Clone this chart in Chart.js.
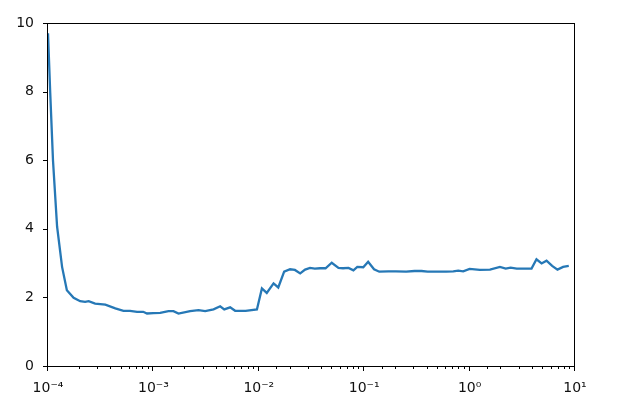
<!doctype html>
<html lang="en">
<head>
<meta charset="utf-8">
<title>Loss vs learning rate</title>
<script src="https://cdn.jsdelivr.net/npm/chart.js@4.4.1/dist/chart.umd.min.js"></script>
<style>
  html, body { margin: 0; padding: 0; background: #fff; }
  #wrap { width: 622px; height: 414px; }
</style>
</head>
<body>
<div id="wrap"><canvas id="canvas"></canvas></div>
<script>
// learning rates (x) and losses (y)
var lrs = [
  1.00e-4, 1.05e-4, 1.115e-4, 1.22e-4, 1.36e-4, 1.51e-4, 1.75e-4, 2.02e-4, 2.25e-4, 2.43e-4,
  2.8e-4, 3.5e-4, 4.35e-4, 5.2e-4, 6.0e-4, 7.0e-4, 8.0e-4, 8.7e-4, 1.0e-3, 1.16e-3,
  1.39e-3, 1.55e-3, 1.73e-3, 2.23e-3, 2.68e-3, 3.1e-3, 3.72e-3, 4.3e-3, 4.7e-3, 5.35e-3,
  5.96e-3, 7.5e-3, 9.6e-3, 1.07e-2, 1.19e-2, 1.38e-2, 1.53e-2, 1.74e-2, 1.98e-2, 2.2e-2,
  2.47e-2, 2.75e-2, 3.06e-2, 3.4e-2, 3.81e-2, 4.3e-2, 4.92e-2, 5.7e-2, 6.3e-2, 7.1e-2,
  7.9e-2, 8.6e-2, 9.8e-2, 0.109, 0.124, 0.139, 0.17, 0.2, 0.25, 0.3,
  0.35, 0.4, 0.5, 0.6, 0.7, 0.78, 0.87, 1.0, 1.25, 1.56,
  1.94, 2.2, 2.45, 2.8, 3.87, 4.31, 4.82, 5.37, 6.07, 6.82,
  7.71, 8.73
];
var losses = [
  9.7, 7.96, 6.0, 4.06, 2.89, 2.21, 1.99, 1.89, 1.87, 1.89,
  1.82, 1.79, 1.68, 1.61, 1.61, 1.58, 1.58, 1.53, 1.54, 1.55,
  1.60, 1.60, 1.53, 1.60, 1.63, 1.60, 1.65, 1.74, 1.65, 1.71,
  1.61, 1.61, 1.65, 2.26, 2.13, 2.41, 2.29, 2.75, 2.82, 2.80,
  2.70, 2.81, 2.86, 2.84, 2.85, 2.85, 3.01, 2.86, 2.85, 2.86,
  2.79, 2.89, 2.88, 3.04, 2.82, 2.75, 2.76, 2.76, 2.75, 2.77,
  2.77, 2.75, 2.75, 2.75, 2.76, 2.78, 2.76, 2.83, 2.80, 2.81,
  2.89, 2.84, 2.87, 2.84, 2.84, 3.11, 2.99, 3.07, 2.92, 2.81,
  2.89, 2.92
];
var xTicks = [1e-4, 1e-3, 1e-2, 1e-1, 1e0, 1e1];
var xTickLabels = ['10\u207b\u2074', '10\u207b\u00b3', '10\u207b\u00b2', '10\u207b\u00b9', '10\u2070', '10\u00b9'];
var yTicks = [0, 2, 4, 6, 8, 10];

var points = lrs.map(function (v, i) { return { x: v, y: losses[i] }; });

function isDecade(v) {
  var l = Math.log10(v);
  return Math.abs(l - Math.round(l)) < 1e-6;
}

// matplotlib-like frame and outward ticks
var frame = {
  id: 'frame',
  afterDraw: function (chart) {
    var ctx = chart.ctx, a = chart.chartArea;
    var xs = chart.scales.x, ys = chart.scales.y;
    ctx.save();
    ctx.strokeStyle = '#000';
    ctx.lineWidth = 1;
    ctx.strokeRect(Math.round(a.left) - 0.5, Math.round(a.top) + 0.5,
                   Math.round(a.right - a.left), Math.round(a.bottom - a.top));
    ctx.beginPath();
    yTicks.forEach(function (v) {
      var py = Math.round(ys.getPixelForValue(v)) + 0.5;
      ctx.moveTo(a.left - 5, py);
      ctx.lineTo(a.left, py);
    });
    xs.ticks.forEach(function (t) {
      if (t.value < xs.min || t.value > xs.max) return;
      var px = Math.round(xs.getPixelForValue(t.value)) - 0.5;
      var len = isDecade(t.value) ? 5 : 3;
      ctx.moveTo(px, a.bottom);
      ctx.lineTo(px, a.bottom + len);
    });
    ctx.stroke();
    ctx.restore();
  }
};

var tickFont = { family: 'DejaVu Sans', size: 14 };

new Chart(document.getElementById('canvas'), {
  type: 'line',
  data: {
    datasets: [{
      data: points,
      borderColor: '#2678b6',
      borderWidth: 2.3,
      pointRadius: 0,
      fill: false,
      tension: 0
    }]
  },
  options: {
    responsive: true,
    maintainAspectRatio: false,
    animation: false,
    layout: { padding: { top: 23, right: 47, left: 0, bottom: 0 } },
    plugins: { legend: { display: false }, tooltip: { enabled: false } },
    scales: {
      x: {
        type: 'logarithmic',
        min: 1e-4,
        max: 1e1,
        grid: { display: false, drawTicks: false },
        border: { display: false },
        afterFit: function (s) { s.height = 48; },
        ticks: {
          autoSkip: false,
          maxRotation: 0,
          padding: 14,
          color: '#111',
          font: tickFont,
          callback: function (v) {
            for (var i = 0; i < xTicks.length; i++) {
              if (Math.abs(Math.log10(v) - Math.log10(xTicks[i])) < 1e-6) return xTickLabels[i];
            }
            return '';
          }
        }
      },
      y: {
        min: 0,
        max: 10,
        grid: { display: false, drawTicks: false },
        border: { display: false },
        afterFit: function (s) { s.width = 48; },
        afterBuildTicks: function (s) { s.ticks = yTicks.map(function (v) { return { value: v }; }); },
        ticks: {
          padding: 14,
          color: '#111',
          font: tickFont
        }
      }
    }
  },
  plugins: [frame]
});
</script>
</body>
</html>
